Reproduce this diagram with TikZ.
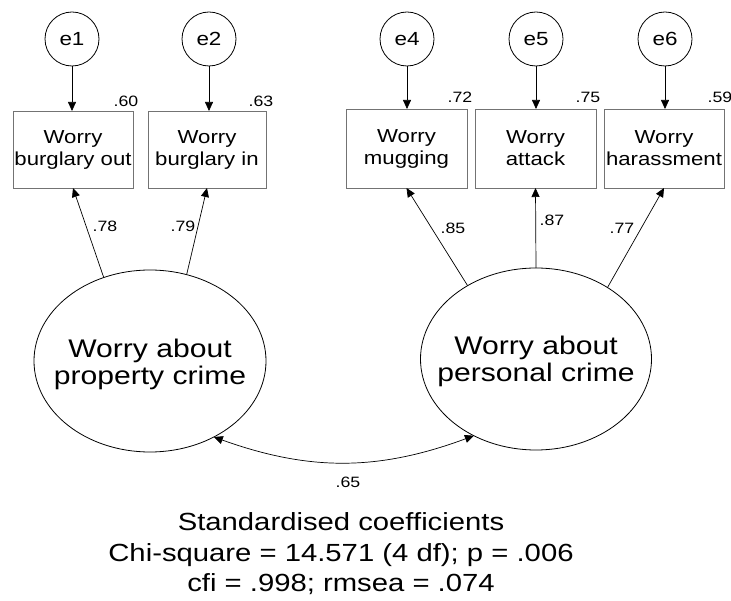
\documentclass[tikz,border=0pt]{standalone}
\usepackage{fontspec}
\setmainfont{Liberation Sans}[FakeStretch=1.18]
\usetikzlibrary{shapes.geometric,arrows.meta}
\tikzset{
  evar/.style={circle, draw, line width=0.8pt, minimum size=54pt, inner sep=0pt, outer sep=0pt, font=\fontsize{19}{22}\selectfont},
  obs/.style={rectangle, draw=black!55, line width=0.8pt, inner sep=0pt, outer sep=0pt, align=center, font=\fontsize{18.8}{22}\selectfont},
  latent/.style={ellipse, draw, line width=0.8pt, inner sep=0pt, outer sep=0pt},
  latenttext/.style={inner sep=0pt, align=center, font=\fontsize{25.5}{27}\selectfont},
  lab/.style={inner sep=0pt, font=\fontsize{15}{17}\selectfont},
  note/.style={inner sep=0pt, anchor=base, font=\fontsize{24.8}{30}\selectfont},
  arr/.style={-{Triangle[length=9pt,width=8pt]}, line width=0.7pt},
  dbl/.style={{Triangle[length=9pt,width=8pt]}-{Triangle[length=9pt,width=8pt]}, line width=0.7pt},
}
\begin{document}
\begin{tikzpicture}[x=1pt,y=-1pt]
\useasboundingbox (0,0) rectangle (731,601);
% error terms
\node[evar] (e1) at (72,39) {e1};
\node[evar] (e2) at (209,39) {e2};
\node[evar] (e4) at (407,39) {e4};
\node[evar] (e5) at (536,39) {e5};
\node[evar] (e6) at (665,39) {e6};
% observed
\node[obs, minimum width=120pt, minimum height=77pt] (b1) at (73,149.5) {Worry\\burglary out};
\node[obs, minimum width=118pt, minimum height=77pt] (b2) at (207,149.5) {Worry\\burglary in};
\node[obs, minimum width=121pt, minimum height=79pt] (b4) at (406.5,148.5) {Worry\\mugging};
\node[obs, minimum width=121pt, minimum height=79pt] (b5) at (535.5,148.5) {Worry\\attack};
\node[obs, minimum width=120pt, minimum height=79pt] (b6) at (664,148.5) {Worry\\harassment};
% latent
\node[latent, minimum width=232pt, minimum height=182pt] (F1) at (150,361) {};
\node[latenttext] (t1) at (150,364) {Worry about\\property crime};
\node[latent, minimum width=231pt, minimum height=182pt] (F2) at (536,359) {};
\node[latenttext] (t2) at (536,361) {Worry about\\personal crime};
% error arrows
\draw[arr] (e1) -- (b1.north -| e1);
\draw[arr] (e2) -- (b2.north -| e2);
\draw[arr] (e4) -- (b4.north -| e4);
\draw[arr] (e5) -- (b5.north -| e5);
\draw[arr] (e6) -- (b6.north -| e6);
% loadings
\draw[arr] (F1.119.5) -- (b1.south);
\draw[arr] (F1.67.5) -- (b2.south);
\draw[arr] (F2.133.8) -- (b4.south);
\draw[arr] (F2.90) -- (b5.south);
\draw[arr] (F2.45.8) -- (b6.south);
% covariance
\draw[dbl] (F1.-50.7) to[bend right=20] (F2.231.3);
% labels
\node[lab] (r1) at (126,101) {.60};
\node[lab] (r2) at (261,101) {.63};
\node[lab] (r4) at (460,97.5) {.72};
\node[lab] (r5) at (588,97.5) {.75};
\node[lab] (r6) at (720,97.5) {.59};
\node[lab] (l1) at (105,226) {.78};
\node[lab] (l2) at (183,226) {.79};
\node[lab] (l4) at (453,228) {.85};
\node[lab] (l5) at (552,220) {.87};
\node[lab] (l6) at (622,228) {.77};
\node[lab] (c12) at (348,482) {.65};
% notes
\node[note] (n1) at (341,530) {Standardised coefficients};
\node[note] (n2) at (341,561) {Chi-square = 14.571 (4 df); p = .006};
\node[note] (n3) at (341,591) {cfi = .998; rmsea = .074};
\end{tikzpicture}
\end{document}
